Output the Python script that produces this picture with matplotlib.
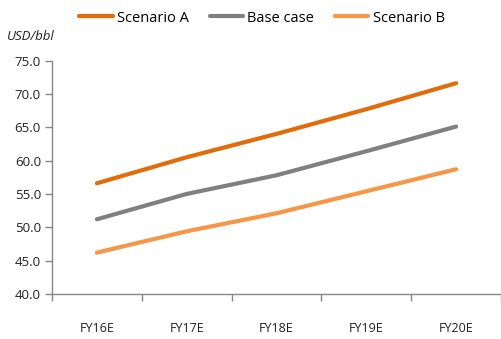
import numpy as np
import matplotlib.pyplot as plt
from matplotlib.ticker import FixedLocator, FormatStrFormatter

years = ['FY16E', 'FY17E', 'FY18E', 'FY19E', 'FY20E']
scenario_a = [56.6, 60.5, 64.0, 67.7, 71.6]
base_case = [51.2, 55.0, 57.8, 61.4, 65.1]
scenario_b = [46.2, 49.4, 52.1, 55.4, 58.7]

plt.rcParams['font.family'] = ['Open Sans', 'DejaVu Sans']

fig = plt.figure(figsize=(5.01, 3.39), dpi=100)
ax = fig.add_axes([52/501, 45/339, 449/501, 233.5/339])

x = np.arange(len(years))
ax.plot(x, scenario_a, color='#E36C0A', lw=3.0, solid_capstyle='round', label='Scenario A')
ax.plot(x, base_case, color='#808080', lw=3.0, solid_capstyle='round', label='Base case')
ax.plot(x, scenario_b, color='#F79646', lw=3.0, solid_capstyle='round', label='Scenario B')

ax.set_xlim(-0.5, 4.5)
ax.set_ylim(40, 75)
ax.set_yticks(np.arange(40, 76, 5))
ax.yaxis.set_major_formatter(FormatStrFormatter('%.1f'))
ax.set_xticks(x)
ax.set_xticklabels(years)
ax.xaxis.set_minor_locator(FixedLocator(np.arange(-0.5, 4.6, 1.0)))
ax.tick_params(axis='x', which='major', length=0, pad=20, labelsize=9, colors='#222222')
ax.tick_params(axis='x', which='minor', length=5, width=1, color='#888888', direction='out')
ax.tick_params(axis='y', length=5, width=1, color='#888888', labelsize=9.5, labelcolor='#222222', pad=3)

for side in ('top', 'right'):
    ax.spines[side].set_visible(False)
for side in ('left', 'bottom'):
    ax.spines[side].set_color('#888888')
    ax.spines[side].set_linewidth(1)

fig.text(7/501, 1 - 37/339, 'USD/bbl', fontsize=9.5, style='italic', va='center', ha='left', color='#222222')

fig.legend(loc='center', bbox_to_anchor=(262/501, 1 - 18/339), ncol=3, frameon=False,
           fontsize=10.5, handlelength=2.3, handletextpad=0.3, columnspacing=1.4)

fig.savefig('out.png', dpi=100)
